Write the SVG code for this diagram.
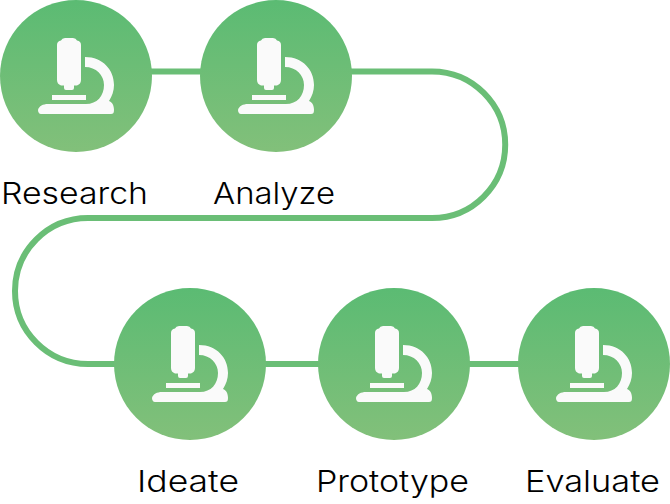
<svg xmlns="http://www.w3.org/2000/svg" xmlns:xlink="http://www.w3.org/1999/xlink" width="670" height="504" viewBox="0 0 670 504">
<style>
.lbl{font-family:"Inter","Open Sans",sans-serif;font-size:30px;font-weight:350;fill:#000}
.conn{fill:none;stroke:#6abe76;stroke-width:6}
.disc{fill:url(#g)}
.ic{fill:#fafafa}
</style>
<defs>
<linearGradient id="g" x1="0" y1="0" x2="0" y2="1"><stop offset="0" stop-color="#5bbb73"/><stop offset="1" stop-color="#82c07a"/></linearGradient>
<g id="icon">
<path class="ic" d="M-11-38H-3Q0-38 1-35.500Q5-35 5-31V4Q5 8 1 9.500H-2V12Q-2 14-4 14H-10Q-12 14-12 12V9.500H-15Q-19 8-19 4V-31Q-19-35-15-35.500Q-14-38-11-38Z"/>
<path class="ic" d="M9-19C27-19 38-6 38 9C38 15 36 20 33 25C36 26 38 29 38 34C38 37 37 38 35 38H-35C-37 38-38 36-38 34C-37 30-33 28-28 28H10C21 28 28 20 28 9C28-1 20-9 9-9Z"/>
<rect class="ic" x="-24" y="19" width="34" height="5"/>
</g>
</defs>
<g id="connectors">
<path class="conn" d="M150 71.500H202"/>
<path class="conn" d="M350 71.500H432A73.250 73.250 0 0 1 432 218H88A73 73 0 0 0 88 364H116"/>
<path class="conn" d="M264 364H320"/>
<path class="conn" d="M468 364H520"/>
</g>
<g id="research"><circle class="disc" cx="76" cy="76" r="76"/><use xlink:href="#icon" href="#icon" x="76" y="76"/><text class="lbl" x="1" y="204" textLength="147" lengthAdjust="spacingAndGlyphs">Research</text></g>
<g id="analyze"><circle class="disc" cx="276" cy="76" r="76"/><use xlink:href="#icon" href="#icon" x="276" y="76"/><text class="lbl" x="213" y="204" textLength="122" lengthAdjust="spacingAndGlyphs">Analyze</text></g>
<g id="ideate"><circle class="disc" cx="190" cy="364" r="76"/><use xlink:href="#icon" href="#icon" x="190" y="364"/><text class="lbl" x="137" y="492" textLength="102" lengthAdjust="spacingAndGlyphs">Ideate</text></g>
<g id="prototype"><circle class="disc" cx="394" cy="364" r="76"/><use xlink:href="#icon" href="#icon" x="394" y="364"/><text class="lbl" x="316" y="492" textLength="153" lengthAdjust="spacingAndGlyphs">Prototype</text></g>
<g id="evaluate"><circle class="disc" cx="594" cy="364" r="76"/><use xlink:href="#icon" href="#icon" x="594" y="364"/><text class="lbl" x="525" y="492" textLength="135" lengthAdjust="spacingAndGlyphs">Evaluate</text></g>
</svg>
